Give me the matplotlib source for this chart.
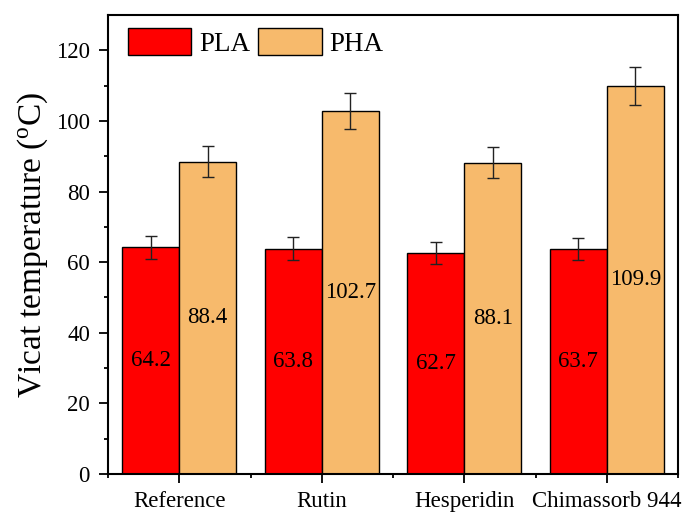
import matplotlib
matplotlib.use("Agg")
import matplotlib.pyplot as plt
import numpy as np

categories = ["Reference", "Rutin", "Hesperidin", "Chimassorb 944"]
pla_values = [64.2, 63.8, 62.7, 63.7]
pha_values = [88.4, 102.7, 88.1, 109.9]
pla_errors = [3.2, 3.2, 3.1, 3.2]
pha_errors = [4.4, 5.1, 4.4, 5.5]
series_names = ["PLA", "PHA"]
yticks = [0, 20, 40, 60, 80, 100, 120]

plt.rcParams['font.family'] = ['Liberation Serif', 'DejaVu Serif']
plt.rcParams['mathtext.fontset'] = 'custom'
plt.rcParams['mathtext.rm'] = 'Liberation Serif'

W, H = 686, 512
fig = plt.figure(figsize=(W / 100, H / 100), dpi=100)
ax = fig.add_axes([108 / W, (H - 474) / H, (678 - 108) / W, (474 - 15) / H])

x = np.arange(len(categories))
bw = 0.4
err_kw = dict(ecolor='#222222', elinewidth=1.0, capsize=4, capthick=1.0)
b1 = ax.bar(x - bw / 2, pla_values, bw, yerr=pla_errors, color='#FF0000',
            edgecolor='black', linewidth=1.0, label=series_names[0], error_kw=err_kw)
b2 = ax.bar(x + bw / 2, pha_values, bw, yerr=pha_errors, color='#F7BA6C',
            edgecolor='black', linewidth=1.0, label=series_names[1], error_kw=err_kw)

for bars, vals in ((b1, pla_values), (b2, pha_values)):
    for rect, v in zip(bars, vals):
        ax.text(rect.get_x() + rect.get_width() / 2, v / 2, f"{v:.1f}",
                ha='center', va='center', fontsize=16.5, color='black')

ax.set_xlim(-0.5, len(categories) - 0.5)
ax.set_ylim(0, 130)
ax.set_yticks(yticks)
ax.set_yticks(np.arange(10, 130, 20), minor=True)
ax.set_xticks(x)
ax.set_xticklabels(categories)
ax.set_xticks(np.arange(-0.5, len(categories), 1.0), minor=True)
ax.tick_params(axis='both', which='major', direction='out', length=6.5, width=1.3,
               labelsize=16.5)
ax.tick_params(axis='x', which='major', pad=6)
ax.tick_params(axis='y', which='major', pad=6.5)
ax.tick_params(axis='both', which='minor', direction='out', length=3, width=1.3)
for s in ax.spines.values():
    s.set_linewidth(1.5)

ax.set_ylabel(r"Vicat temperature ($\mathregular{^{o}}$C)", fontsize=24, labelpad=4)

ax.legend(loc='upper left', bbox_to_anchor=((128 - 108) / 570, 1 - (28 - 15) / 459),
          ncol=2, frameon=False, fontsize=19.5, handlelength=2.33, handleheight=1.15,
          handletextpad=0.3, columnspacing=0.3, borderaxespad=0, borderpad=0)

fig.savefig("out.png", dpi=100)
